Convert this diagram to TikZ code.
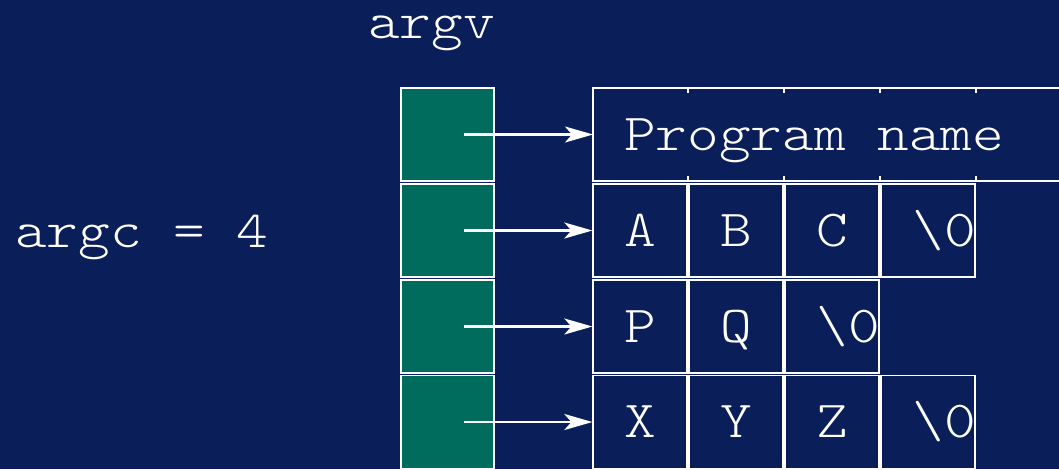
\documentclass[tikz,border=0pt]{standalone}
\usepackage{fontspec}
\setmonofont{lmmonolt10-regular.otf}[FakeStretch=1.16]
\usetikzlibrary{arrows.meta}
\definecolor{bgnavy}{RGB}{10,30,89}
\definecolor{ptrfill}{RGB}{0,108,94}
\tikzset{
  txt/.style={text=white,font=\ttfamily\fontsize{52}{60}\selectfont},
  cellbox/.style={draw=white,line width=1.8pt,minimum width=93.5pt,minimum height=93pt,inner sep=0pt,txt,text height=31pt,text depth=0pt},
  ptrbox/.style={cellbox,fill=ptrfill},
  ptr/.style={draw=white,line width=2.2pt,-{Stealth[length=28pt,width=16pt,inset=7pt]}},
  edge/.style={draw=white,line width=1.8pt},
}
\newcommand{\nul}{\hspace*{16pt}\textbackslash0\hspace*{-16pt}}
\begin{document}
\begin{tikzpicture}[x=1pt,y=-1pt]
\fill[bgnavy] (0,0) rectangle (1059,469);
\useasboundingbox (0,0) rectangle (1059,469);

% labels
\node[txt,anchor=base,inner sep=0pt] (argv) at (431.5,38) {argv};
\node[txt,anchor=base west,inner sep=0pt] (argc) at (15,247) {argc = 4};

% argv pointer cells
\node[ptrbox] (v0) at (447.5,134.5) {};
\node[ptrbox] (v1) at (447.5,230.5) {};
\node[ptrbox] (v2) at (447.5,326.5) {};
\node[ptrbox] (v3) at (447.5,422) {};
\coordinate (s0) at (464,134.5);
\coordinate (s1) at (464,230.5);
\coordinate (s2) at (464,326.5);
\coordinate (s3) at (464,422);

% program name box
\draw[edge] (1059,88) -- (593,88) -- (593,181) -- (1059,181);
\foreach \x in {688,784,880,976}{
  \draw[edge] (\x,88) -- (\x,93);
  \draw[edge] (\x,176) -- (\x,181);
}
\coordinate (prog) at (593,134.5);
\node[txt,anchor=base west,inner sep=0pt] (progname) at (624,150) {Program name};

% row A B C \0
\node[cellbox] (a1) at (640,230.5) {A};
\node[cellbox] (a2) at (736,230.5) {B};
\node[cellbox] (a3) at (832,230.5) {C};
\node[cellbox] (a4) at (928,230.5) {\nul};

% row P Q \0
\node[cellbox] (b1) at (640,326.5) {P};
\node[cellbox] (b2) at (736,326.5) {Q};
\node[cellbox] (b3) at (832,326.5) {\nul};

% row X Y Z \0
\node[cellbox] (c1) at (640,422) {X};
\node[cellbox] (c2) at (736,422) {Y};
\node[cellbox] (c3) at (832,422) {Z};
\node[cellbox] (c4) at (928,422) {\nul};

% pointers
\draw[ptr] (s0) -- (prog);
\draw[ptr] (s1) -- (a1.west);
\draw[ptr] (s2) -- (b1.west);
\draw[ptr] (s3) -- (c1.west);
\end{tikzpicture}
\end{document}
